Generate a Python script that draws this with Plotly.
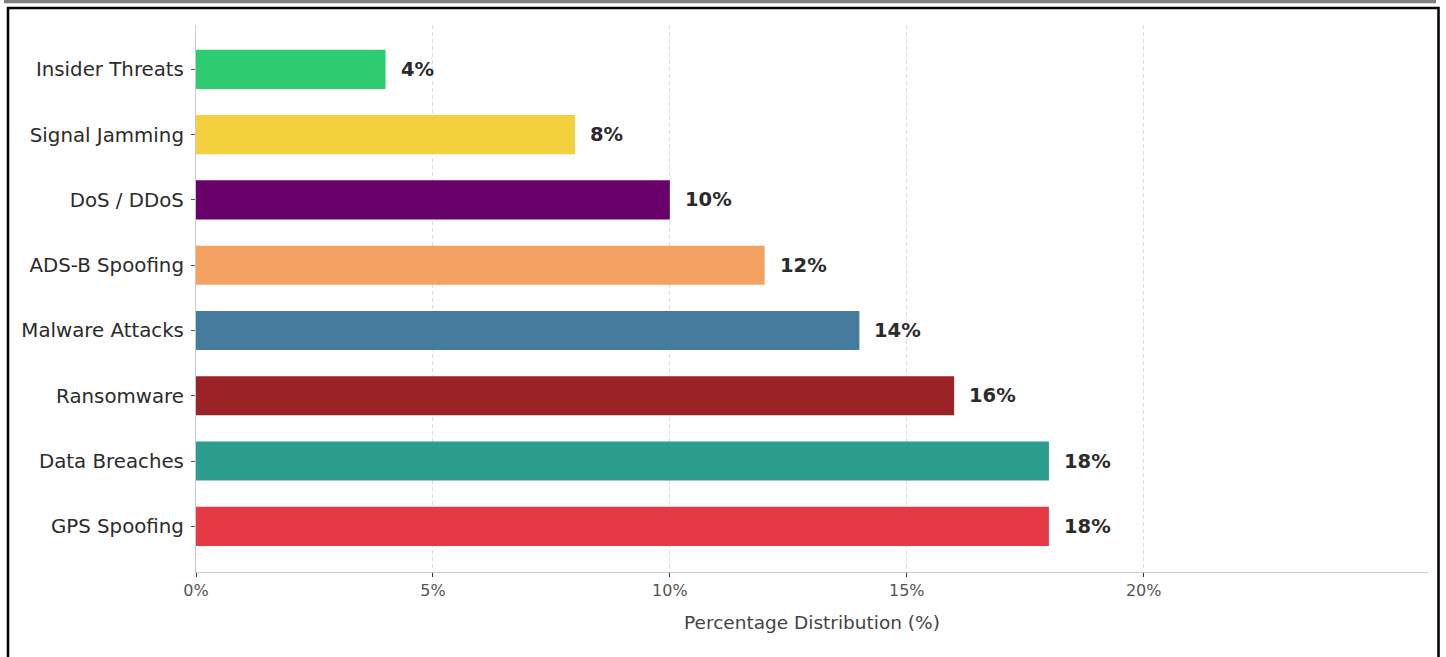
import plotly.graph_objects as go

categories = ["GPS Spoofing", "Data Breaches", "Ransomware", "Malware Attacks",
              "ADS-B Spoofing", "DoS / DDoS", "Signal Jamming", "Insider Threats"]
values = [18, 18, 16, 14, 12, 10, 8, 4]
colors = ["#E63946", "#2A9D8F", "#9B2226", "#457B9D",
          "#F4A261", "#6A006A", "#F4D03F", "#2ECC71"]
x_ticks = [0, 5, 10, 15, 20]
x_tick_labels = ["0%", "5%", "10%", "15%", "20%"]

W, H = 1446, 657
L, R, T, B = 196, 1428, 25, 572

fig = go.Figure()
fig.add_trace(go.Bar(
    y=categories, x=values, orientation="h",
    marker=dict(color=colors, line=dict(width=0)),
    width=0.6, hoverinfo="x+y", showlegend=False,
))

for c, v in zip(categories, values):
    fig.add_annotation(x=v, y=c, text=f"<b>{v}%</b>", showarrow=False,
                       xanchor="left", xshift=13,
                       font=dict(family="DejaVu Sans", size=19.5, color="#2b2b2b"))

def px(x):
    return (x - L) / (R - L)

def py(y):
    return (B - y) / (B - T)

# page frame
fig.add_shape(type="rect", xref="paper", yref="paper",
              x0=px(4), x1=px(1436), y0=py(0), y1=py(3.2),
              fillcolor="#808080", line=dict(width=0), layer="above")
fig.add_shape(type="rect", xref="paper", yref="paper",
              x0=px(8), x1=px(1438.5), y0=py(8), y1=py(680),
              fillcolor="rgba(0,0,0,0)", line=dict(color="black", width=2.5), layer="above")

fig.update_layout(
    width=W, height=H,
    margin=dict(l=L, r=W - R, t=T, b=H - B, pad=0),
    paper_bgcolor="white", plot_bgcolor="white",
    bargap=0.4,
    font=dict(family="DejaVu Sans", color="#333333"),
    xaxis=dict(
        range=[0, 26], tickvals=x_ticks, ticktext=x_tick_labels,
        showgrid=True, gridcolor="#dddddd", griddash="4px,3px", gridwidth=1,
        zeroline=False, showline=True, linecolor="#cccccc", linewidth=1.2,
        ticks="outside", ticklen=4, tickcolor="#333333", tickwidth=1,
        tickfont=dict(size=16, color="#555555"),
        title=dict(text="Percentage Distribution (%)", standoff=16,
                   font=dict(size=18.5, color="#444444")),
    ),
    yaxis=dict(
        categoryorder="array", categoryarray=categories,
        range=[-0.7, 7.68],
        showgrid=False, zeroline=False, showline=True, linecolor="#cccccc", linewidth=1.2,
        ticks="outside", ticklen=4, tickcolor="#555555", tickwidth=1,
        ticklabelstandoff=3,
        tickfont=dict(size=19.8, color="#2b2b2b"),
    ),
)

fig.write_html("out.html", config={"displayModeBar": False},
               post_script="document.body.style.margin='0';document.body.style.padding='0';")
